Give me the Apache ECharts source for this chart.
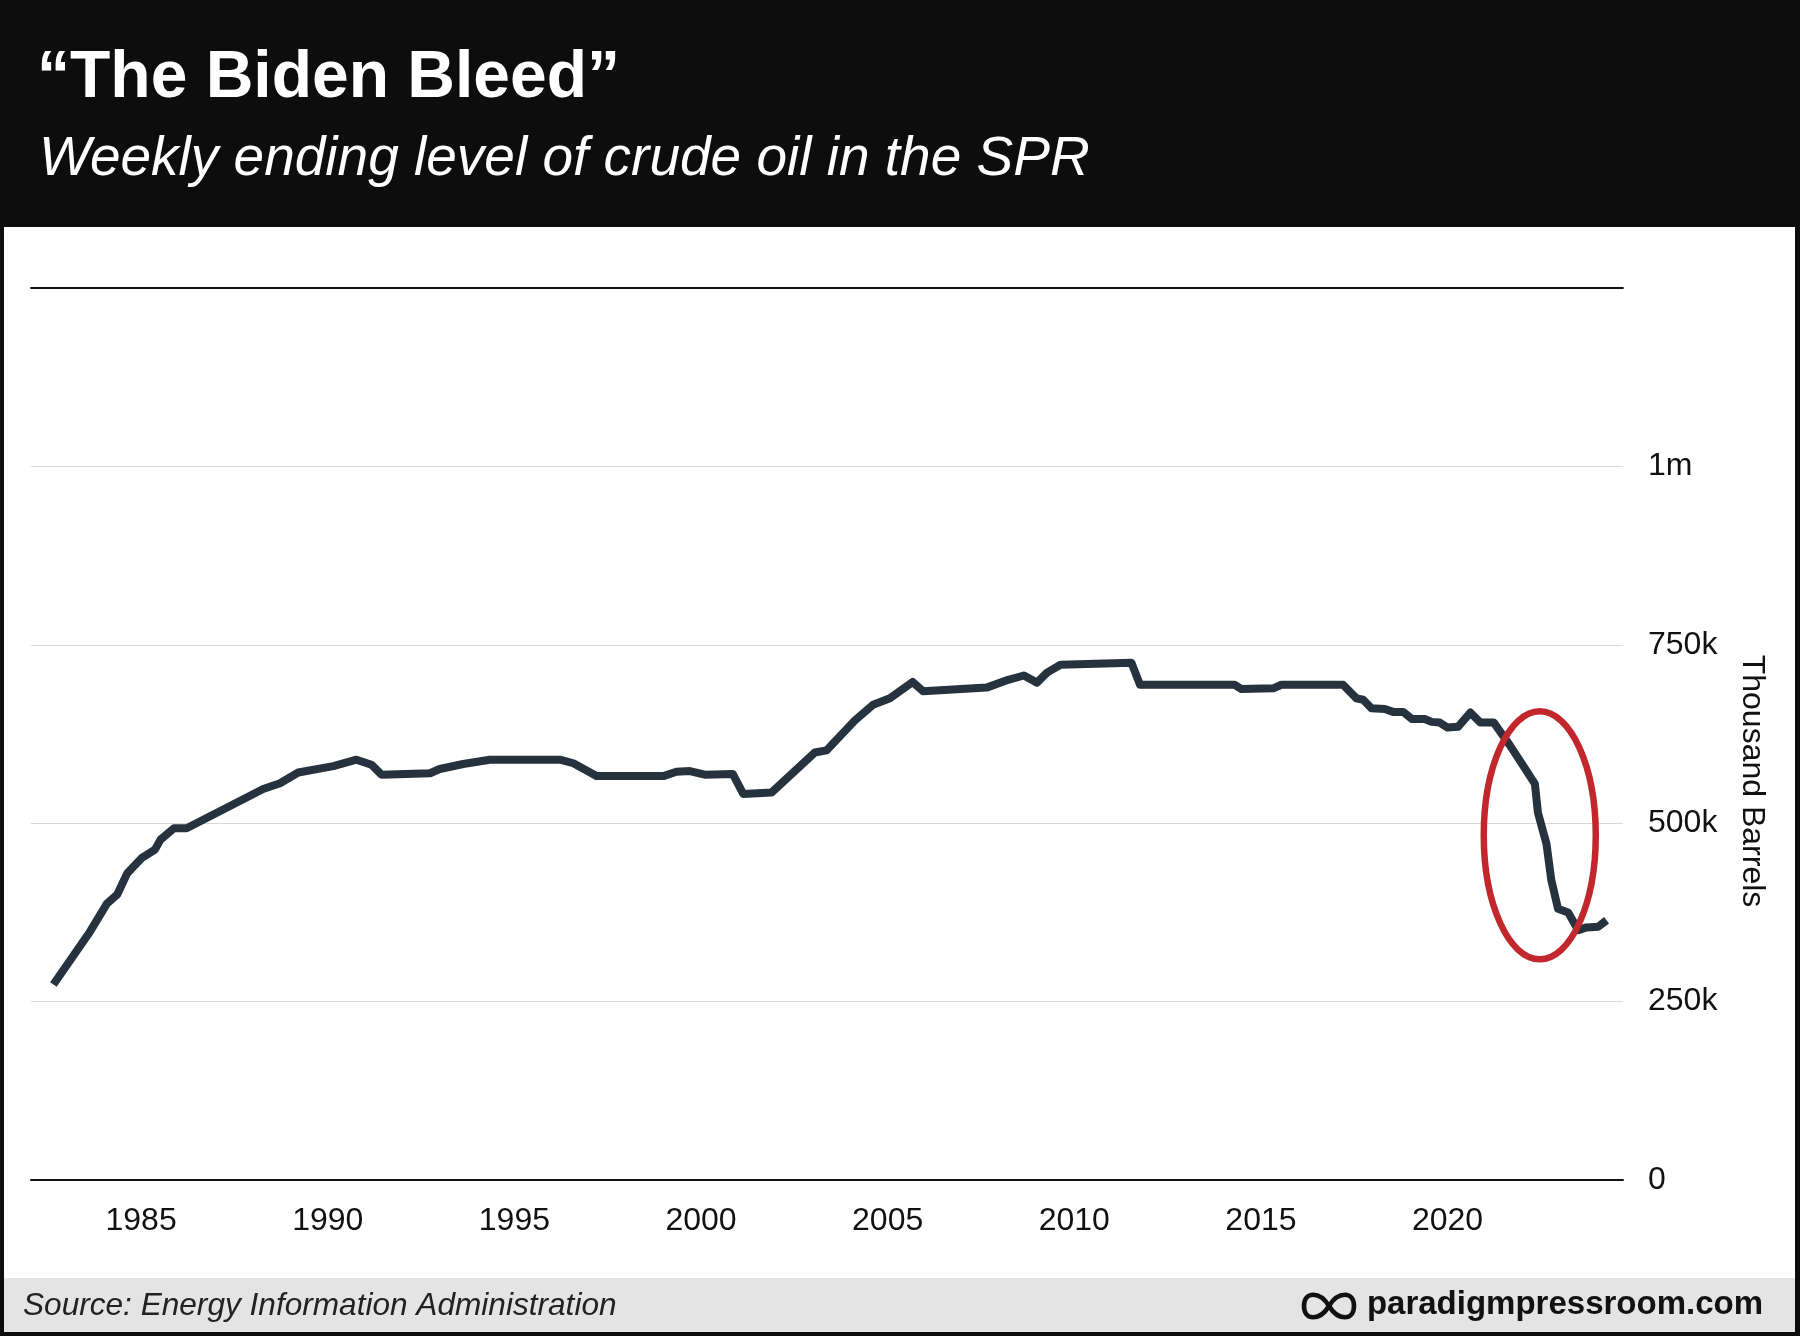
<!DOCTYPE html>
<html>
<head>
<meta charset="utf-8">
<script src="https://cdn.jsdelivr.net/npm/echarts@6/dist/echarts.min.js"></script>
<style>
html,body{margin:0;padding:0;background:#0d0d0d;}
#c{width:1800px;height:1336px;}
</style>
</head>
<body>
<div id="c"></div>
<script>
// ---- data (thousand barrels, weekly ending level) ----
const years = [1982.65,1983.63,1984.08,1984.36,1984.63,1985.01,1985.37,1985.52,1985.88,1986.22,
  1988.27,1988.72,1989.21,1990.15,1990.77,1991.17,1991.44,1992.74,1993.0,1993.63,
  1994.34,1996.22,1996.58,1997.2,1998.99,1999.34,1999.70,2000.10,2000.85,2001.13,
  2001.89,2003.05,2003.36,2004.12,2004.61,2005.06,2005.67,2005.95,2007.65,2008.23,
  2008.65,2009.0,2009.27,2009.63,2011.53,2011.76,2014.30,2014.48,2015.33,2015.55,
  2017.20,2017.56,2017.74,2017.96,2018.32,2018.54,2018.81,2019.05,2019.39,2019.57,
  2019.79,2020.0,2020.28,2020.61,2020.88,2021.24,2021.67,2022.02,2022.34,2022.42,
  2022.65,2022.78,2022.96,2023.23,2023.5,2023.72,2024.04,2024.26];
const levels = [274000,348000,387000,400000,430000,451000,463000,477000,493000,493000,
  548000,556000,571000,580000,589000,582000,568000,570000,576000,583000,
  589000,589000,584000,566000,566000,572000,573000,568000,569000,541000,
  543000,599000,602000,644000,666000,675000,698000,685000,690000,701000,
  707000,697000,711000,722000,725000,694000,694000,688000,689000,694000,
  694000,675000,673000,661000,660000,656000,656000,646000,646000,642000,
  641000,634000,635000,655000,641000,641000,609000,581000,555000,515000,
  471000,420000,380000,375000,350000,354000,355000,364000];
const xTickYears = [1985,1990,1995,2000,2005,2010,2015,2020];
const yTickValues = [0,250000,500000,750000,1000000];
const yTickLabels = ['0','250k','500k','750k','1m'];
const highlight = [2022.47, 483000]; // centre of the red ellipse (year, level)

const titleText = '\u201CThe Biden Bleed\u201D';
const subtitleText = 'Weekly ending level of crude oil in the SPR';
const axisNameText = 'Thousand Barrels';
const sourceText = 'Source: Energy Information Administration';
const brandText = 'paradigmpressroom.com';

const FONT = '"Liberation Sans", Helvetica, Arial, sans-serif';
const chart = echarts.init(document.getElementById('c'), null, {renderer: 'canvas'});

function infinityLogo(cx, cy, hw, hh, k) {
  const st = {stroke: '#111111', lineWidth: 4.6, fill: null};
  const seg = (x1, y1, c1x, c1y, c2x, c2y, x2, y2) => ({type: 'bezierCurve', z: 100,
    shape: {x1: x1, y1: y1, cpx1: c1x, cpy1: c1y, cpx2: c2x, cpy2: c2y, x2: x2, y2: y2}, style: st});
  return [
    seg(cx, cy, cx + k, cy - hh, cx + hw, cy - hh, cx + hw, cy),
    seg(cx + hw, cy, cx + hw, cy + hh, cx + k, cy + hh, cx, cy),
    seg(cx, cy, cx - k, cy - hh, cx - hw, cy - hh, cx - hw, cy),
    seg(cx - hw, cy, cx - hw, cy + hh, cx - k, cy + hh, cx, cy)
  ];
}

function baseGraphics() {
  return [
    {type: 'rect', z: -10, shape: {x: 4, y: 227, width: 1791, height: 1051}, style: {fill: '#ffffff'}},
    {type: 'rect', z: -10, shape: {x: 4, y: 1278, width: 1791, height: 54}, style: {fill: '#e4e4e4'}},
    {type: 'text', z: 100, style: {text: titleText, x: 37, y: 79, fill: '#ffffff',
      font: 'bold 66px ' + FONT, textAlign: 'left', textVerticalAlign: 'middle'}},
    {type: 'text', z: 100, style: {text: subtitleText, x: 39, y: 160, fill: '#ffffff',
      font: 'italic 55px ' + FONT, textAlign: 'left', textVerticalAlign: 'middle'}},
    {type: 'text', z: 100, x: 1752, y: 781, rotation: -Math.PI / 2,
      style: {text: axisNameText, x: 0, y: 0, fill: '#111111', font: '32px ' + FONT,
        textAlign: 'center', textVerticalAlign: 'middle'}},
    {type: 'text', z: 100, style: {text: sourceText, x: 23, y: 1306, fill: '#222222',
      font: 'italic 31.6px ' + FONT, textAlign: 'left', textVerticalAlign: 'middle'}},
    {type: 'text', z: 100, style: {text: brandText, x: 1763, y: 1305, fill: '#111111',
      font: 'bold 33px ' + FONT, textAlign: 'right', textVerticalAlign: 'middle'}}
  ].concat(infinityLogo(1329, 1306, 25, 15, 9));
}

const option = {
  backgroundColor: '#0d0d0d',
  animation: false,
  grid: {left: 31, right: 177, top: 288, bottom: 156},
  xAxis: [{
    type: 'value', min: 1982.05, max: 2024.7,
    axisLine: {show: true, lineStyle: {color: '#111111', width: 2}},
    axisTick: {show: false},
    splitLine: {show: false},
    axisLabel: {customValues: xTickYears, formatter: v => String(Math.round(v)),
      fontSize: 32, color: '#111111', fontFamily: FONT, margin: 25}
  }, {
    type: 'value', position: 'top', min: 1982.05, max: 2024.7,
    axisLine: {show: true, lineStyle: {color: '#111111', width: 1.8}},
    axisTick: {show: false}, axisLabel: {show: false}, splitLine: {show: false}
  }],
  yAxis: {
    type: 'value', position: 'right', min: 0, max: 1250000, interval: 250000,
    axisLine: {show: false}, axisTick: {show: false},
    splitLine: {show: true, lineStyle: {color: '#d9d9d9', width: 1}},
    axisLabel: {
      formatter: v => { const i = yTickValues.indexOf(v); return i >= 0 ? yTickLabels[i] : ''; },
      fontSize: 32, color: '#111111', fontFamily: FONT, margin: 25, padding: [6, 0, 0, 0]
    }
  },
  series: [{
    type: 'line', xAxisIndex: 0, yAxisIndex: 0,
    data: years.map((y, i) => [y, levels[i]]),
    symbol: 'none', showSymbol: false,
    lineStyle: {color: '#26323e', width: 8, join: 'round', cap: 'butt'},
    z: 3
  }],
  graphic: baseGraphics()
};
chart.setOption(option);

const c = chart.convertToPixel({xAxisIndex: 0, yAxisIndex: 0}, highlight);
const g = baseGraphics();
g.push({type: 'ellipse', z: 100, shape: {cx: c[0], cy: c[1], rx: 56, ry: 124},
  style: {fill: null, stroke: '#c1272d', lineWidth: 6.5}});
chart.setOption({graphic: g});
</script>
</body>
</html>
